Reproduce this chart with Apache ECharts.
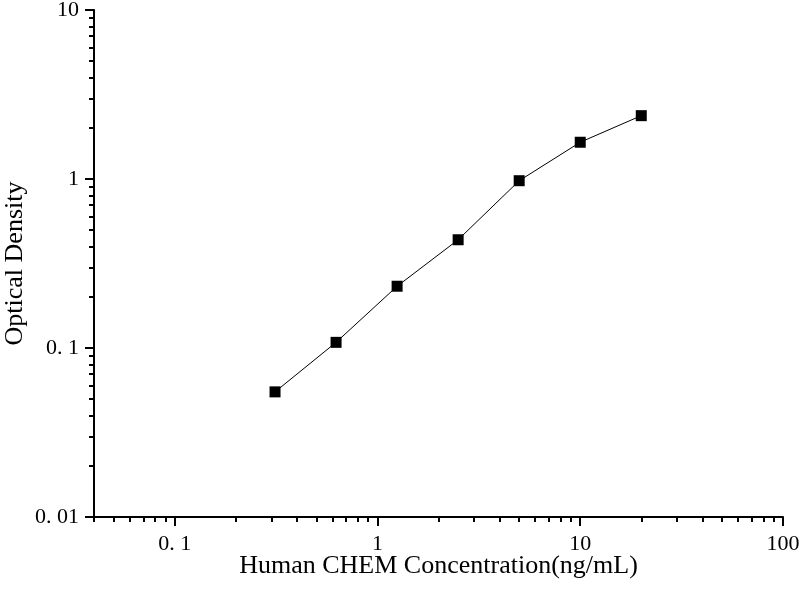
<!DOCTYPE html>
<html>
<head>
<meta charset="utf-8">
<script src="https://cdn.jsdelivr.net/npm/echarts@6/dist/echarts.min.js"></script>
<style>html,body{margin:0;padding:0;background:#fff}#c{width:800px;height:600px}</style>
</head>
<body>
<div id="c"></div>
<script>
const concentrations = [0.3125, 0.625, 1.25, 2.5, 5, 10, 20];
const odValues = [0.055, 0.108, 0.232, 0.437, 0.977, 1.65, 2.37];
const xMajorTicks = [0.1, 1, 10, 100];
const xMinorTicks = [0.04,0.05,0.06,0.07,0.08,0.09,0.2,0.3,0.4,0.5,0.6,0.7,0.8,0.9,2,3,4,5,6,7,8,9,20,30,40,50,60,70,80,90];
const yMajorTicks = [0.01, 0.1, 1, 10];
const yMinorTicks = [0.02,0.03,0.04,0.05,0.06,0.07,0.08,0.09,0.2,0.3,0.4,0.5,0.6,0.7,0.8,0.9,2,3,4,5,6,7,8,9];
const xName = 'Human CHEM Concentration(ng/mL)';
const yName = 'Optical Density';

const fmt = v => {
  if (v < 1) return String(+v.toPrecision(3)).replace('.', '. ');
  return String(Math.round(v));
};
const font = 'Liberation Serif';
const chart = echarts.init(document.getElementById('c'));
const axisBase = {
  type: 'log', logBase: 10,
  splitLine: { show: false },
  minorTick: { show: false },
  nameMoveOverlap: false
};
chart.setOption({
  backgroundColor: '#fff',
  animation: false,
  grid: { left: 94, right: 17, top: 10, bottom: 83, containLabel: false, outerBoundsMode: 'none' },
  xAxis: [
    Object.assign({}, axisBase, {
      min: 0.04, max: 100, position: 'bottom',
      name: xName, nameLocation: 'middle', nameGap: 36,
      nameTextStyle: { fontFamily: font, fontSize: 26, color: '#000' },
      axisLine: { show: true, lineStyle: { color: '#000', width: 2 } },
      axisTick: { show: true, length: 9, inside: false, customValues: xMajorTicks, lineStyle: { color: '#000', width: 2 } },
      axisLabel: { customValues: xMajorTicks, formatter: fmt, fontFamily: font, fontSize: 22, color: '#000', margin: 16 }
    }),
    Object.assign({}, axisBase, {
      min: 0.04, max: 100, position: 'bottom',
      axisLine: { show: false },
      axisTick: { show: true, length: 5, inside: false, customValues: xMinorTicks, lineStyle: { color: '#000', width: 2 } },
      axisLabel: { show: false }
    })
  ],
  yAxis: [
    Object.assign({}, axisBase, {
      min: 0.01, max: 10, position: 'left',
      name: yName, nameLocation: 'middle', nameGap: 66,
      nameTextStyle: { fontFamily: font, fontSize: 26, color: '#000' },
      axisLine: { show: true, lineStyle: { color: '#000', width: 2 } },
      axisTick: { show: true, length: 9, inside: false, customValues: yMajorTicks, lineStyle: { color: '#000', width: 2 } },
      axisLabel: { customValues: yMajorTicks, formatter: fmt, fontFamily: font, fontSize: 22, color: '#000', margin: 15 }
    }),
    Object.assign({}, axisBase, {
      min: 0.01, max: 10, position: 'left',
      axisLine: { show: false },
      axisTick: { show: true, length: 5, inside: false, customValues: yMinorTicks, lineStyle: { color: '#000', width: 2 } },
      axisLabel: { show: false }
    })
  ],
  series: [{
    type: 'line',
    xAxisIndex: 0, yAxisIndex: 0,
    data: concentrations.map((c, i) => [c, odValues[i]]),
    symbol: 'rect', symbolSize: 11,
    itemStyle: { color: '#000' },
    lineStyle: { color: '#000', width: 1 },
    smooth: false
  }]
});
</script>
</body>
</html>
